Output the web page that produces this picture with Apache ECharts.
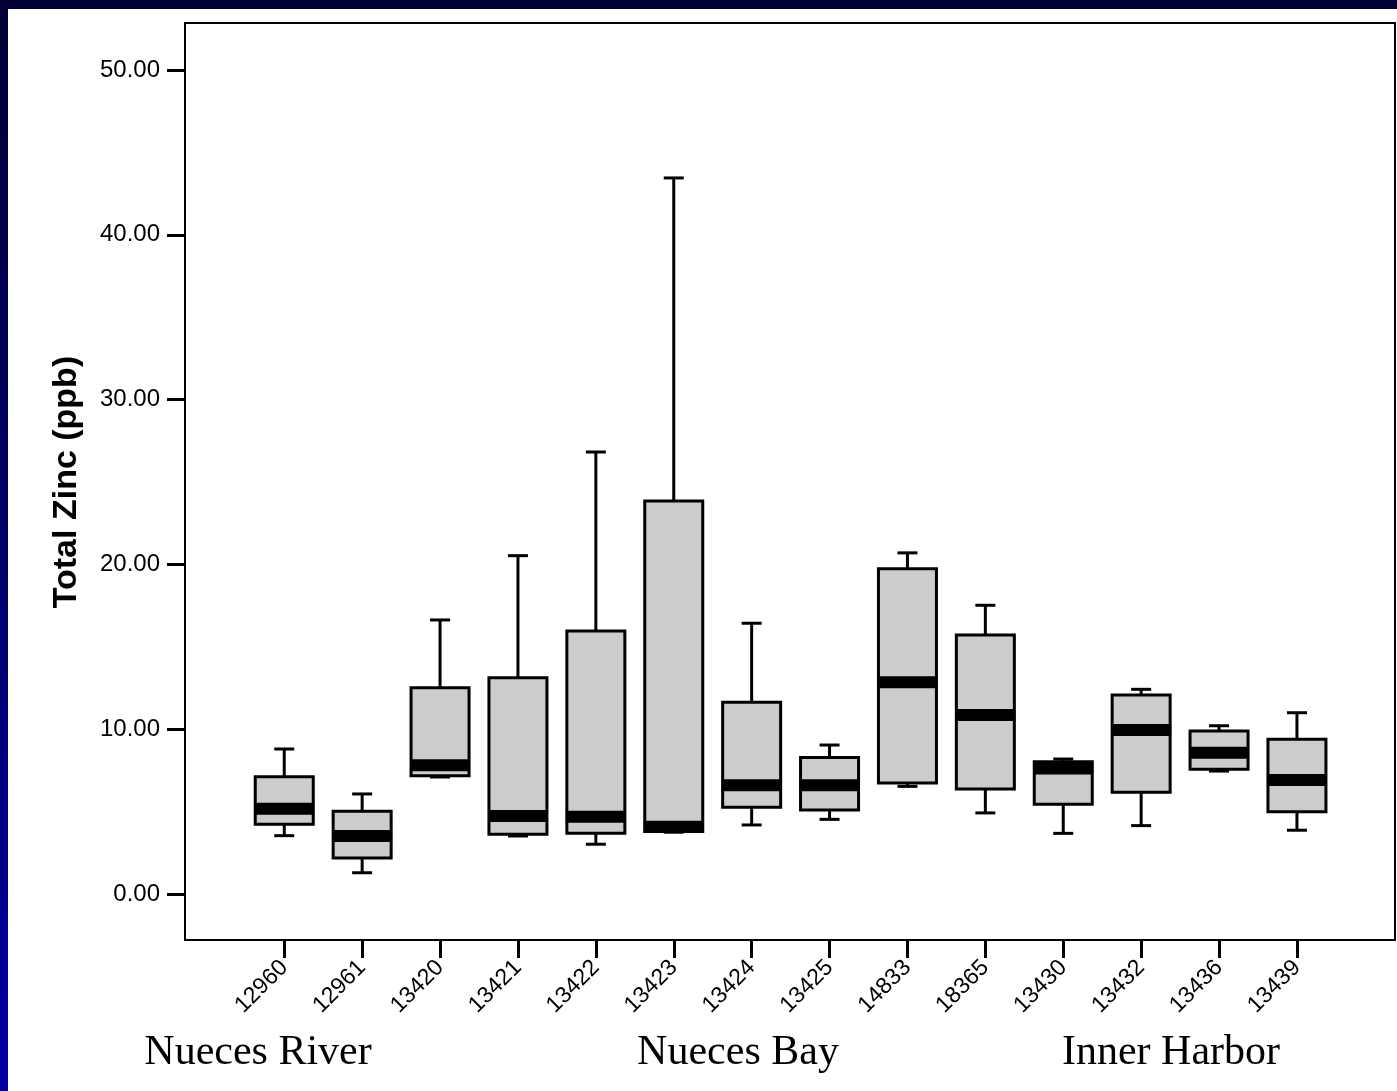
<!DOCTYPE html>
<html>
<head>
<meta charset="utf-8">
<script src="https://cdn.jsdelivr.net/npm/echarts@6/dist/echarts.min.js"></script>
<style>
  html, body { margin: 0; padding: 0; }
  #frame {
    position: relative; width: 1397px; height: 1091px; overflow: hidden;
    background: linear-gradient(to bottom, #000035 0%, #00006a 50%, #0000a3 100%);
  }
  #paper { position: absolute; left: 8px; top: 9px; right: 0; bottom: 0; background: #ffffff; }
  #chart { position: absolute; left: 0; top: 0; width: 1397px; height: 1091px; }
</style>
</head>
<body>
<div id="frame">
  <div id="paper"></div>
  <div id="chart"></div>
</div>
<script>
// Monitoring stations (x axis)
const stations = ['12960', '12961', '13420', '13421', '13422', '13423', '13424',
                  '13425', '14833', '18365', '13430', '13432', '13436', '13439'];

// Five-number summaries of total zinc (ppb) per station
const whiskerLow  = [3.54, 1.29, 7.10, 3.52, 3.02, 3.75, 4.19, 4.53, 6.53, 4.92, 3.68, 4.15, 7.46, 3.87];
const quartile1   = [4.23, 2.18, 7.18, 3.62, 3.68, 3.80, 5.26, 5.10, 6.74, 6.37, 5.44, 6.17, 7.57, 4.99];
const medians     = [5.18, 3.52, 7.81, 4.73, 4.69, 4.08, 6.60, 6.60, 12.85, 10.86, 7.62, 9.95, 8.57, 6.92];
const quartile3   = [7.12, 5.02, 12.52, 13.12, 15.96, 23.85, 11.63, 8.29, 19.73, 15.72, 8.03, 12.08, 9.89, 9.39];
const whiskerHigh = [8.80, 6.07, 16.63, 20.53, 26.82, 43.45, 16.43, 9.04, 20.70, 17.52, 8.19, 12.42, 10.21, 11.00];

// Y axis tick values
const yTicks = [0, 10, 20, 30, 40, 50];

// Region labels under the axis
const regions = [
  { text: 'Nueces River', x: 258 },
  { text: 'Nueces Bay', x: 738 },
  { text: 'Inner Harbor', x: 1171 }
];

const boxRows = stations.map((s, i) =>
  [i, whiskerLow[i], quartile1[i], medians[i], quartile3[i], whiskerHigh[i]]);

function renderBox(params, api) {
  const idx = api.value(0);
  const pt = v => api.coord([idx, v]);
  const pMin = pt(api.value(1));
  const pQ1 = pt(api.value(2));
  const pMed = pt(api.value(3));
  const pQ3 = pt(api.value(4));
  const pMax = pt(api.value(5));
  const cx = pMed[0];
  const boxW = 58, capW = 20, medH = 12;
  const line = { stroke: '#000', lineWidth: 3 };
  return {
    type: 'group',
    children: [
      { type: 'line', shape: { x1: cx, y1: pMax[1], x2: cx, y2: pQ3[1] }, style: line },
      { type: 'line', shape: { x1: cx - capW / 2, y1: pMax[1], x2: cx + capW / 2, y2: pMax[1] }, style: line },
      { type: 'line', shape: { x1: cx, y1: pQ1[1], x2: cx, y2: pMin[1] }, style: line },
      { type: 'line', shape: { x1: cx - capW / 2, y1: pMin[1], x2: cx + capW / 2, y2: pMin[1] }, style: line },
      { type: 'rect', shape: { x: cx - boxW / 2, y: pQ3[1], width: boxW, height: pQ1[1] - pQ3[1] },
        style: { fill: '#cccccc', stroke: '#000', lineWidth: 3 } },
      { type: 'rect', shape: { x: cx - boxW / 2 - 1, y: pMed[1] - medH / 2, width: boxW + 2, height: medH },
        style: { fill: '#000' } }
    ]
  };
}

const chart = echarts.init(document.getElementById('chart'), null, { renderer: 'canvas' });

chart.setOption({
  backgroundColor: 'transparent',
  animation: false,
  textStyle: { fontFamily: 'Arial, "Liberation Sans", sans-serif' },
  grid: [
    // outer frame
    { left: 185, top: 23, width: 1210, height: 917, show: true,
      borderColor: '#000', borderWidth: 2, backgroundColor: 'transparent' },
    // data area
    { left: 245.3, top: 23, width: 1090.6, height: 917 }
  ],
  xAxis: [
    { gridIndex: 0, type: 'value', min: 0, max: 1, show: false },
    {
      gridIndex: 1, type: 'category', data: stations, boundaryGap: true, position: 'bottom',
      axisLine: { show: false, onZero: false },
      axisTick: { show: true, alignWithLabel: true, length: 18, lineStyle: { color: '#000', width: 3 } },
      axisLabel: { rotate: 45, margin: 24, fontSize: 23, color: '#000', interval: 0,
                   fontFamily: 'Arial, "Liberation Sans", sans-serif' },
      splitLine: { show: false }
    }
  ],
  yAxis: [
    { gridIndex: 0, type: 'value', min: 0, max: 1, show: false },
    {
      gridIndex: 1, type: 'value', min: -2.791, max: 52.852, offset: 60.3, position: 'left',
      axisLine: { show: false, onZero: false },
      axisTick: { show: true, length: 18, customValues: yTicks, lineStyle: { color: '#000', width: 3 } },
      axisLabel: { margin: 25, fontSize: 24, color: '#000', customValues: yTicks,
                   formatter: v => v.toFixed(2),
                   fontFamily: 'Arial, "Liberation Sans", sans-serif' },
      splitLine: { show: false }
    }
  ],
  graphic: [
    {
      type: 'text', x: 67, y: 482, rotation: Math.PI / 2,
      style: { text: 'Total Zinc (ppb)', fill: '#000', fontSize: 34, fontWeight: 'bold',
               fontFamily: 'Arial, "Liberation Sans", sans-serif',
               align: 'center', verticalAlign: 'middle' }
    }
  ].concat(regions.map(r => ({
    type: 'text', x: r.x, y: 1053,
    style: { text: r.text, fill: '#000', fontSize: 42,
             fontFamily: '"Times New Roman", "Liberation Serif", serif',
             align: 'center', verticalAlign: 'middle' }
  }))),
  series: [{
    type: 'custom',
    xAxisIndex: 1, yAxisIndex: 1,
    renderItem: renderBox,
    encode: { x: 0, y: [1, 2, 3, 4, 5] },
    data: boxRows,
    clip: false
  }]
});
</script>
</body>
</html>
